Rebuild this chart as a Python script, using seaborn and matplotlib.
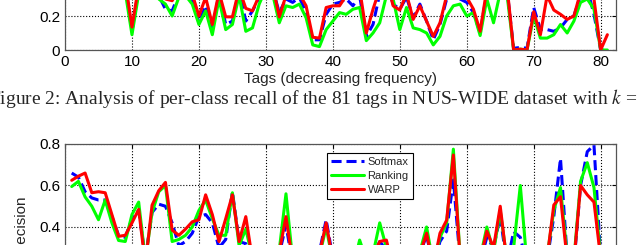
import numpy as np
import pandas as pd
import matplotlib
matplotlib.use('Agg')
import matplotlib.pyplot as plt
import seaborn as sns
from matplotlib.ticker import FormatStrFormatter

# Data (81 NUS-WIDE tags, decreasing frequency)
tags = np.arange(1, 82)
methods = ['Softmax', 'Ranking', 'WARP']

# Per-class recall (top panel)
softmax_recall = [0.55, 0.50, 0.48, 0.45, 0.42, 0.50, 0.40, 0.44, 0.38, 0.11,
                  0.36, 0.40, 0.35, 0.32, 0.24, 0.23, 0.33, 0.36, 0.30, 0.16,
                  0.26, 0.12, 0.33, 0.15, 0.17, 0.35, 0.17, 0.23, 0.31, 0.40,
                  0.36, 0.22, 0.30, 0.28, 0.31, 0.22, 0.06, 0.06, 0.21, 0.27,
                  0.28, 0.30, 0.26, 0.32, 0.08, 0.15, 0.33, 0.40, 0.27, 0.24,
                  0.31, 0.19, 0.27, 0.17, 0.06, 0.15, 0.30, 0.34, 0.30, 0.28,
                  0.22, 0.10, 0.34, 0.33, 0.38, 0.36, 0.01, 0.015, 0.01, 0.25,
                  0.12, 0.12, 0.11, 0.13, 0.18, 0.20, 0.32, 0.36, 0.21, 0.0, 0.0]
ranking_recall = [0.50, 0.45, 0.42, 0.40, 0.38, 0.44, 0.36, 0.38, 0.34, 0.09,
                  0.33, 0.36, 0.32, 0.30, 0.27, 0.20, 0.31, 0.32, 0.27, 0.15,
                  0.23, 0.09, 0.30, 0.12, 0.15, 0.32, 0.11, 0.13, 0.27, 0.36,
                  0.33, 0.16, 0.26, 0.25, 0.27, 0.19, 0.03, 0.02, 0.12, 0.17,
                  0.22, 0.21, 0.24, 0.25, 0.055, 0.10, 0.16, 0.32, 0.30, 0.12,
                  0.25, 0.13, 0.12, 0.10, 0.03, 0.08, 0.20, 0.26, 0.27, 0.20,
                  0.22, 0.085, 0.30, 0.16, 0.34, 0.33, 0.0, 0.005, 0.0, 0.20,
                  0.07, 0.07, 0.09, 0.15, 0.10, 0.17, 0.28, 0.30, 0.24, 0.0, 0.0]
warp_recall = [0.58, 0.52, 0.50, 0.48, 0.45, 0.52, 0.42, 0.46, 0.40, 0.135,
               0.38, 0.42, 0.36, 0.34, 0.30, 0.29, 0.35, 0.37, 0.33, 0.20,
               0.31, 0.15, 0.34, 0.195, 0.195, 0.36, 0.245, 0.23, 0.32, 0.42,
               0.38, 0.195, 0.32, 0.31, 0.33, 0.26, 0.075, 0.07, 0.25, 0.26,
               0.26, 0.32, 0.31, 0.36, 0.10, 0.24, 0.36, 0.42, 0.26, 0.235,
               0.33, 0.18, 0.26, 0.17, 0.08, 0.16, 0.32, 0.36, 0.32, 0.31,
               0.24, 0.11, 0.36, 0.34, 0.40, 0.38, 0.0, 0.005, 0.0, 0.225,
               0.09, 0.32, 0.235, 0.21, 0.18, 0.20, 0.34, 0.38, 0.30, 0.0, 0.09]

# Per-class precision (bottom panel)
softmax_prec = [0.66, 0.64, 0.57, 0.54, 0.53, 0.53, 0.45, 0.36, 0.35, 0.44,
                0.48, 0.25, 0.47, 0.51, 0.50, 0.42, 0.31, 0.33, 0.37, 0.45,
                0.46, 0.42, 0.30, 0.34, 0.57, 0.33, 0.32, 0.22, 0.20, 0.25,
                0.20, 0.27, 0.41, 0.22, 0.18, 0.21, 0.17, 0.28, 0.435, 0.25,
                0.20, 0.23, 0.19, 0.30, 0.22, 0.26, 0.33, 0.29, 0.20, 0.18,
                0.22, 0.24, 0.27, 0.36, 0.21, 0.33, 0.38, 0.627, 0.24, 0.20,
                0.18, 0.23, 0.35, 0.30, 0.45, 0.22, 0.378, 0.35, 0.22, 0.18,
                0.20, 0.24, 0.45, 0.73, 0.25, 0.22, 0.60, 0.763, 0.795, 0.25, 0.20]
ranking_prec = [0.595, 0.62, 0.545, 0.50, 0.435, 0.53, 0.42, 0.335, 0.33, 0.46,
                0.52, 0.24, 0.47, 0.57, 0.60, 0.33, 0.34, 0.36, 0.40, 0.48,
                0.53, 0.44, 0.36, 0.36, 0.565, 0.31, 0.39, 0.25, 0.21, 0.24,
                0.22, 0.29, 0.56, 0.24, 0.20, 0.22, 0.18, 0.26, 0.40, 0.23,
                0.21, 0.24, 0.20, 0.337, 0.24, 0.27, 0.42, 0.30, 0.21, 0.20,
                0.23, 0.25, 0.28, 0.40, 0.22, 0.35, 0.42, 0.775, 0.26, 0.21,
                0.20, 0.25, 0.40, 0.28, 0.48, 0.24, 0.30, 0.60, 0.22, 0.20,
                0.22, 0.26, 0.48, 0.59, 0.26, 0.24, 0.62, 0.71, 0.59, 0.26, 0.22]
warp_prec = [0.625, 0.645, 0.66, 0.565, 0.57, 0.565, 0.46, 0.355, 0.36, 0.42,
             0.485, 0.22, 0.505, 0.575, 0.615, 0.385, 0.36, 0.39, 0.425, 0.435,
             0.555, 0.46, 0.33, 0.44, 0.555, 0.33, 0.45, 0.24, 0.20, 0.23,
             0.21, 0.28, 0.45, 0.23, 0.19, 0.20, 0.18, 0.27, 0.42, 0.24,
             0.20, 0.23, 0.19, 0.30, 0.23, 0.26, 0.33, 0.337, 0.20, 0.19,
             0.22, 0.24, 0.27, 0.37, 0.21, 0.37, 0.433, 0.747, 0.25, 0.20,
             0.19, 0.24, 0.38, 0.30, 0.50, 0.23, 0.28, 0.25, 0.22, 0.19,
             0.21, 0.25, 0.506, 0.546, 0.24, 0.23, 0.60, 0.555, 0.52, 0.25, 0.21]

x_ticks = [0, 10, 20, 30, 40, 50, 60, 70, 80]
caption = 'Figure 2: Analysis of per-class recall of the 81 tags in NUS-WIDE dataset with $k$ = 5'


def long_form(softmax, ranking, warp):
    frames = []
    for name, vals in zip(methods, [softmax, ranking, warp]):
        frames.append(pd.DataFrame({'tag': tags, 'value': vals, 'method': name}))
    return pd.concat(frames, ignore_index=True)


recall_df = long_form(softmax_recall, ranking_recall, warp_recall)
prec_df = long_form(softmax_prec, ranking_prec, warp_prec)

sns.set_style('white')
plt.rcParams['font.family'] = ['Liberation Sans', 'DejaVu Sans']
plt.rcParams['mathtext.fontset'] = 'stix'

palette = {'Softmax': (0, 0, 1), 'Ranking': (0, 1, 0), 'WARP': (1, 0, 0)}
dash_map = {'Softmax': (3.3, 1.6), 'Ranking': '', 'WARP': ''}

fig = plt.figure(figsize=(6.4, 2.45), dpi=100)
# axes run past the figure edges: the picture is a crop of a taller page
ax_top = fig.add_axes([0.1016, 0.7959, 0.861, 0.6939])
ax_bot = fig.add_axes([0.1016, -0.2653, 0.861, 0.6776])

sns.lineplot(data=recall_df, x='tag', y='value', hue='method', style='method',
             palette=palette, dashes=dash_map, linewidth=2.2, ax=ax_top, legend=False)
sns.lineplot(data=prec_df, x='tag', y='value', hue='method', style='method',
             palette=palette, dashes=dash_map, linewidth=2.2, ax=ax_bot)

for ax, top in [(ax_top, 1.0), (ax_bot, 0.8)]:
    ax.set_xlim(0, 82.3)
    ax.set_ylim(0, top)
    ax.set_xticks(x_ticks)
    ax.set_yticks(np.arange(0, top + 0.01, 0.2))
    ax.yaxis.set_major_formatter(FormatStrFormatter('%g'))
    ax.grid(True, linestyle=':', color='black', linewidth=0.8)
    ax.tick_params(direction='in', top=True, right=True, length=3, labelsize=11,
                   colors='black')
    for sp in ax.spines.values():
        sp.set_color('#555555')
        sp.set_linewidth(0.9)

ax_top.set_xlabel('Tags (decreasing frequency)', fontsize=11, labelpad=2)
ax_top.set_ylabel('Recall', fontsize=11)
ax_bot.set_xlabel('Tags (decreasing frequency)', fontsize=11)
ax_bot.set_ylabel('Precision', fontsize=11)
ax_bot.yaxis.set_label_coords(-0.068, 0.505)

handles, labels = ax_bot.get_legend_handles_labels()
leg = ax_bot.legend(handles, labels, loc='upper left', bbox_to_anchor=(0.4755, 0.946),
                    borderaxespad=0, fontsize=8, frameon=True, fancybox=False,
                    edgecolor='black', framealpha=1, handlelength=3.0,
                    handletextpad=0.3, labelspacing=0.35, borderpad=0.35)
leg.get_frame().set_linewidth(0.8)
for h in leg.get_lines():
    h.set_linewidth(2.2)

fig.text(-0.017, 0.6, caption, family='Liberation Serif', fontsize=14,
         ha='left', va='center')

fig.savefig('out.png', dpi=100)
